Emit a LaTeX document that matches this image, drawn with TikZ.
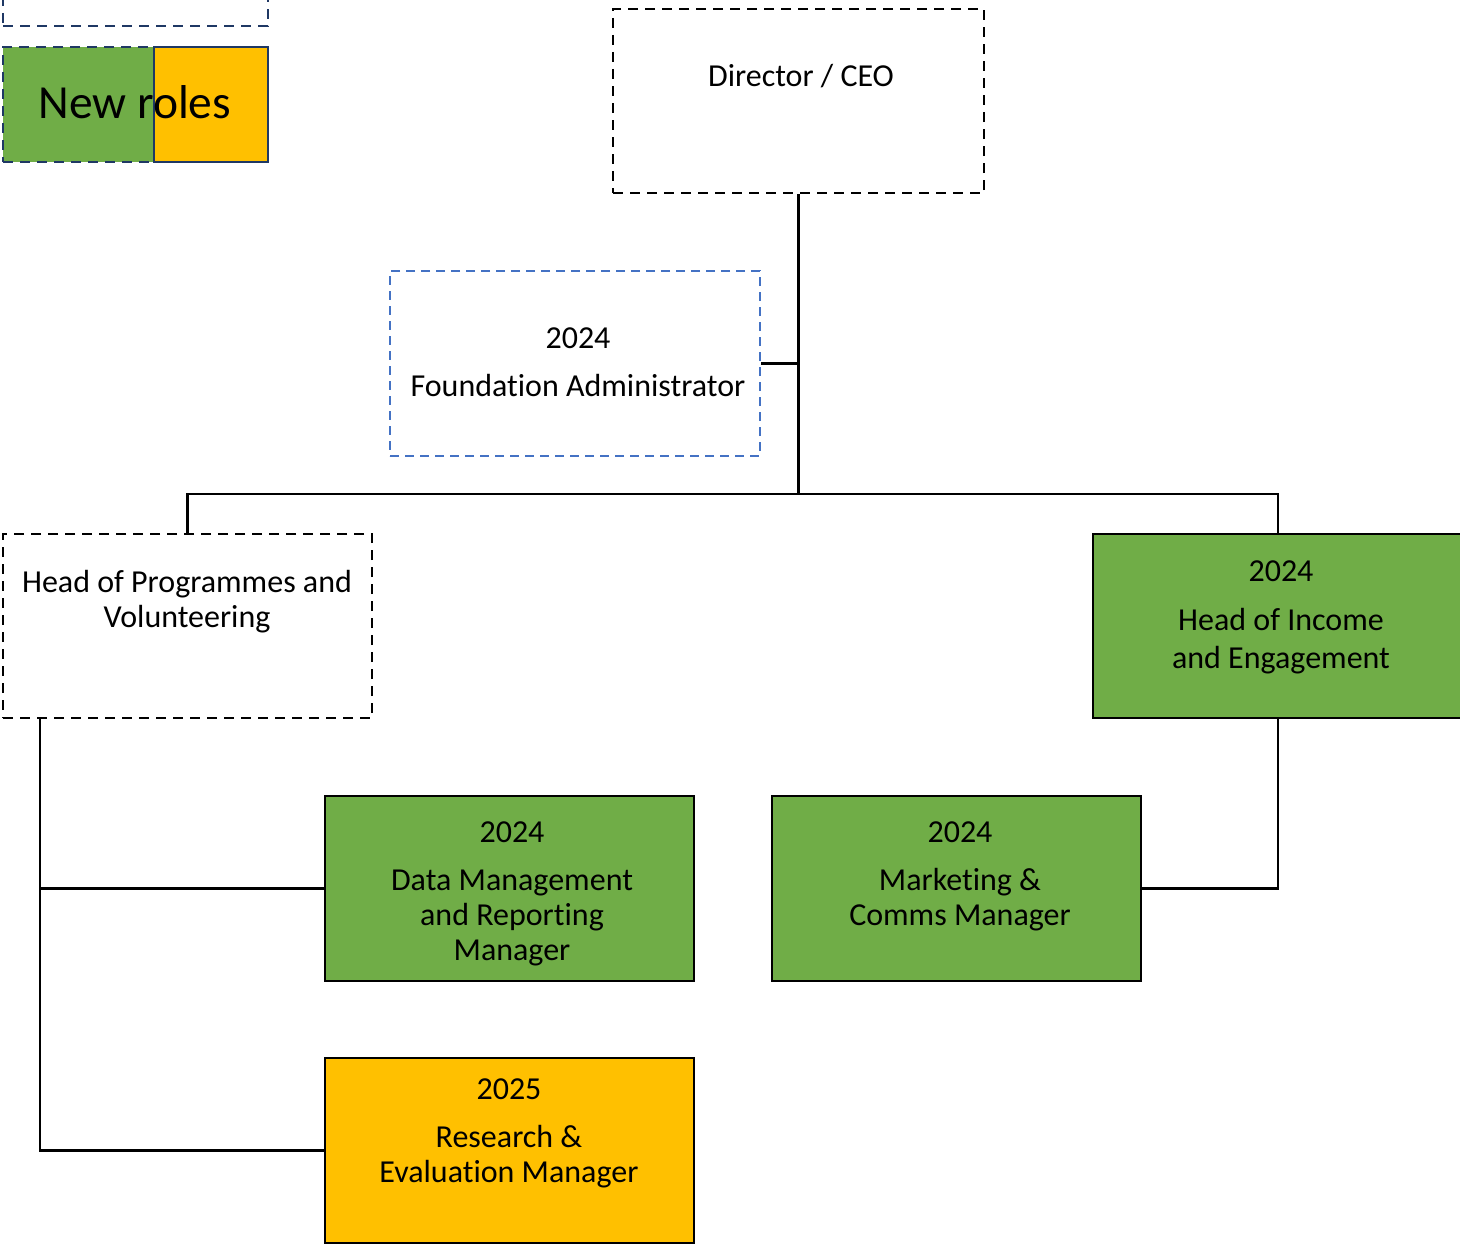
\documentclass[tikz,border=0pt]{standalone}
\usepackage{fontspec}
\setmainfont{Carlito}[Ligatures={NoCommon}]
\definecolor{ggreen}{HTML}{70AD47}
\definecolor{gyellow}{HTML}{FFC000}
\definecolor{gblue}{HTML}{4472C4}
\definecolor{gnavy}{HTML}{1F3864}
\begin{document}
\begin{tikzpicture}[x=1pt,y=-1pt,
  dashbox/.style={draw=black, line width=2.8pt, dash pattern=on 10pt off 7pt, rectangle, inner sep=0pt},
  bluebox/.style={draw=gblue, line width=2.8pt, dash pattern=on 9pt off 6pt, rectangle, inner sep=0pt},
  greenbox/.style={draw=black, fill=ggreen, line width=2.8pt, rectangle, inner sep=0pt},
  yellowbox/.style={draw=black, fill=gyellow, line width=2.8pt, rectangle, inner sep=0pt},
  txt/.style={anchor=base, inner sep=0pt, font=\fontsize{32}{35}\selectfont},
  conn/.style={draw=black, line width=2.8pt}]
\useasboundingbox (0,0) rectangle (1460,1247);
\clip (0,0) rectangle (1460,1247);
% legend
\node[draw=gnavy, line width=2.8pt, dash pattern=on 10pt off 7pt, minimum width=265pt, minimum height=90pt, inner sep=0pt] (legtop) at (135.5,-19) {};
\node[draw=gnavy, fill=ggreen, line width=2.8pt, dash pattern=on 10pt off 7pt, minimum width=151pt, minimum height=115pt, inner sep=0pt] (leggreen) at (78.5,104.5) {};
\node[draw=gnavy, fill=gyellow, line width=2.8pt, minimum width=114pt, minimum height=115pt, inner sep=0pt] (legyellow) at (211,104.5) {};
\node[anchor=base, inner sep=0pt, font=\fontsize{47.5}{50}\selectfont] (legtxt) at (134.7,118.3) {New roles};
% boxes
\node[dashbox, minimum width=371pt, minimum height=184pt] (ceo) at (798.5,101) {};
\node[txt] (ceot) at (801,86) {Director / CEO};
\node[bluebox, minimum width=370pt, minimum height=185pt] (fa) at (575,363.5) {};
\node[txt] (fay) at (578,348.3) {2024};
\node[txt] (fan) at (578,396.7) {Foundation Administrator};
\node[dashbox, minimum width=369pt, minimum height=184pt] (hop) at (187.5,626) {};
\node[txt] (hop1) at (187,592.7) {Head of Programmes and};
\node[txt] (hop2) at (187,627.3) {Volunteering};
\node[greenbox, minimum width=370pt, minimum height=184pt] (inc) at (1278,626) {};
\node[txt] (incy) at (1281,581.7) {2024};
\node[txt] (inc1) at (1281,630) {Head of Income};
\node[txt] (inc2) at (1281,668) {and Engagement};
\node[greenbox, minimum width=369pt, minimum height=185pt] (dm) at (509.5,888.5) {};
\node[txt] (dmy) at (512,842.3) {2024};
\node[txt] (dm1) at (512,890.7) {Data Management};
\node[txt] (dm2) at (512,925.7) {and Reporting};
\node[txt] (dm3) at (512,960.5) {Manager};
\node[greenbox, minimum width=369pt, minimum height=185pt] (mc) at (956.5,888.5) {};
\node[txt] (mcy) at (960,842.3) {2024};
\node[txt] (mc1) at (960,890.7) {Marketing \&};
\node[txt] (mc2) at (960,925.7) {Comms Manager};
\node[yellowbox, minimum width=369pt, minimum height=185pt] (res) at (509.5,1150.5) {};
\node[txt] (resy) at (509,1099) {2025};
\node[txt] (res1) at (509,1147.3) {Research \&};
\node[txt] (res2) at (509,1182.7) {Evaluation Manager};
% connectors
\coordinate (bus) at (798.5,494);
\coordinate (spine) at (40,0);
\draw[conn] (ceo.south) -- (bus);
\draw[conn] (fa.east) -- (fa.east -| bus);
\draw[conn] (hop.north) |- (bus) -| (inc.north);
\draw[conn] (hop.south -| spine) -- (spine |- res.west) -- (res.west);
\draw[conn] (spine |- dm.west) -- (dm.west);
\draw[conn] (inc.south) |- (mc.east);
\end{tikzpicture}
\end{document}
